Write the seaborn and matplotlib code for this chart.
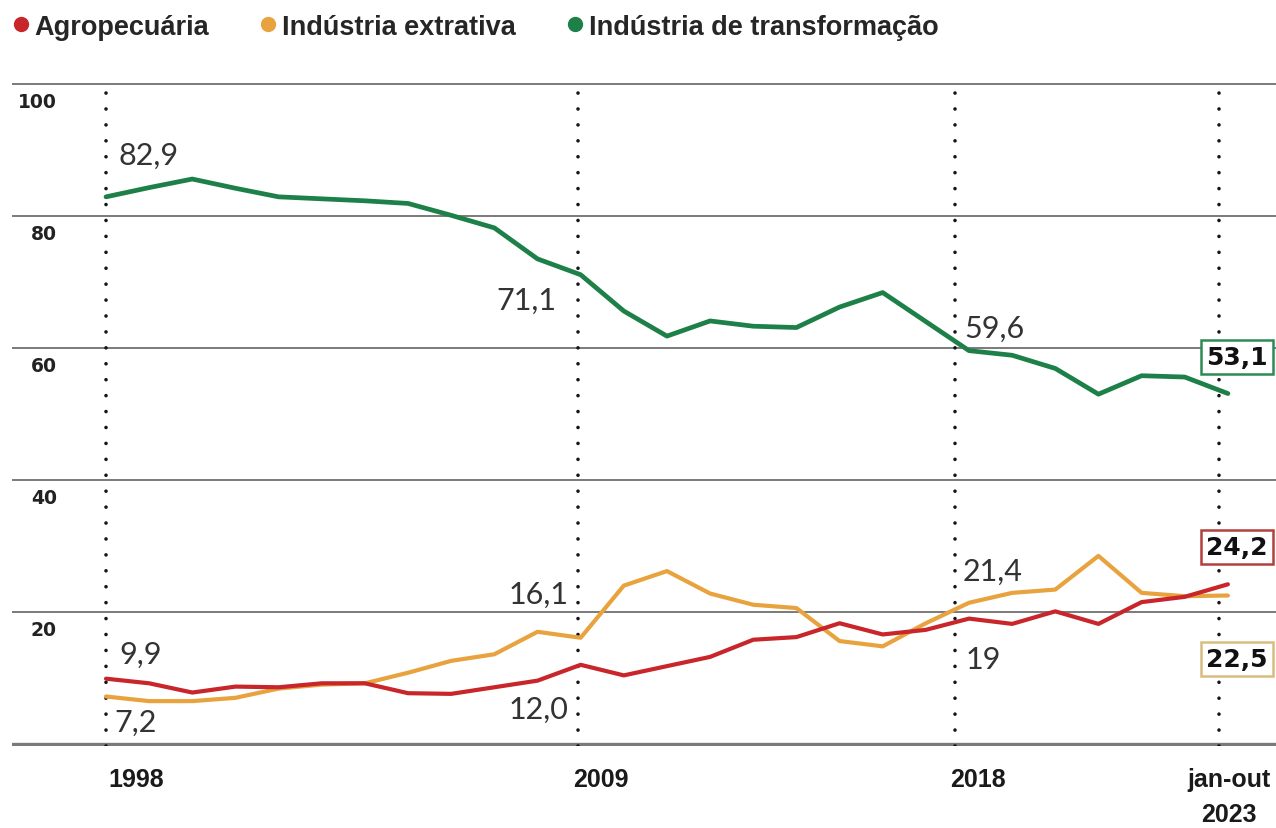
import numpy as np
import pandas as pd
import matplotlib
matplotlib.use("Agg")
import matplotlib.pyplot as plt
from matplotlib.lines import Line2D
from matplotlib.transforms import blended_transform_factory
import seaborn as sns

# ---------------- data ----------------
series_names = ["Agropecuária", "Indústria extrativa", "Indústria de transformação"]
agro = [9.9, 9.2, 7.8, 8.7, 8.6, 9.2, 9.2, 7.7, 7.6, 8.6, 9.6, 12.0, 10.4, 11.8,
        13.2, 15.8, 16.2, 18.3, 16.6, 17.3, 19.0, 18.2, 20.1, 18.2, 21.5, 22.3, 24.2]
extrativa = [7.2, 6.5, 6.5, 7.0, 8.4, 9.0, 9.2, 10.8, 12.6, 13.6, 17.0, 16.1, 24.0, 26.2,
             22.8, 21.1, 20.6, 15.6, 14.8, 18.3, 21.4, 22.9, 23.4, 28.5, 22.9, 22.4, 22.5]
transformacao = [82.9, 84.3, 85.6, 84.2, 82.9, 82.6, 82.3, 81.9, 80.1, 78.2, 73.5, 71.1,
                 65.6, 61.8, 64.1, 63.3, 63.1, 66.2, 68.4, 64.0, 59.6, 58.9, 56.9, 53.0,
                 55.8, 55.6, 53.1]
x_labels = ["1998", "2009", "2018", "jan-out\n2023"]
y_ticks = [0, 20, 40, 60, 80, 100]
y_labels = ["20", "40", "60", "80", "100"]

colors = {"Agropecuária": "#c8262b",
          "Indústria extrativa": "#e8a33f",
          "Indústria de transformação": "#1d8048"}
box_edges = {"Agropecuária": "#b3403d",
             "Indústria extrativa": "#d9bd80",
             "Indústria de transformação": "#2d8a55"}

values = {"Agropecuária": agro,
          "Indústria extrativa": extrativa,
          "Indústria de transformação": transformacao}
n = len(agro)
df = pd.concat([pd.DataFrame({"x": np.arange(n), "valor": values[s], "serie": s})
                for s in series_names], ignore_index=True)

# ---------------- layout constants ----------------
W, H = 1276, 829
x0_px, px_per_unit = 106, 43.15
def xu(px):
    return (px - x0_px) / px_per_unit

vline_pos = [xu(106), xu(578), xu(955), xu(1219)]
label_pos = [xu(136), xu(601), xu(978), xu(1229)]

sns.set_style("white")
fig = plt.figure(figsize=(W / 100, H / 100), dpi=100)
ax_left, ax_right = 12, W
ax_top, ax_bot = 83, 747
ax = fig.add_axes([ax_left / W, 1 - ax_bot / H, (ax_right - ax_left) / W, (ax_bot - ax_top) / H])

ax.set_xlim(xu(ax_left), xu(ax_right))
ax.set_ylim(-0.3, 100.3)

# gridlines
for v in y_ticks:
    ax.axhline(v, color="#7a7a7a", lw=2.4 if v == 0 else 1.4, zorder=1)

# dotted verticals
for p in vline_pos:
    ax.axvline(p, color="#151515", lw=2.6, linestyle=(0, (0.01, 4.4)),
               dash_capstyle="round", zorder=2)

sns.lineplot(data=df, x="x", y="valor", hue="serie", palette=colors,
             hue_order=["Indústria extrativa", "Agropecuária", "Indústria de transformação"],
             linewidth=3.0, legend=False, ax=ax, zorder=3)
for line in ax.get_lines():
    if line.get_color() == "#1d8048":
        line.set_linewidth(3.4)

for s in ax.spines.values():
    s.set_visible(False)
ax.set_xlabel("")
ax.set_ylabel("")

bold_cond = ["Liberation Sans Narrow", "Liberation Sans", "DejaVu Sans"]

# x ticks
ax.set_xticks(label_pos)
ax.set_xticklabels(x_labels, fontsize=18, fontweight="bold", family=bold_cond,
                   color="#1a1a1a", va="top")
for t in ax.get_xticklabels():
    t.set_linespacing(1.6)
ax.tick_params(axis="x", which="major", length=0, pad=15)
ax.set_xticks(vline_pos, minor=True)
ax.tick_params(axis="x", which="minor", length=5, width=1.6, color="#333333", direction="inout")
ax.set_yticks([])

# y labels inside, below the gridlines
ytrans = blended_transform_factory(ax.transAxes, ax.transData)
for v, lab in zip(y_ticks[1:], y_labels):
    ax.annotate(lab, xy=((57 - ax_left) / (ax_right - ax_left), v), xycoords=ytrans,
                xytext=(0, -8), textcoords="offset pixels", ha="right", va="top",
                fontsize=13.5, fontweight="bold", family="DejaVu Sans", color="#222222")

# point annotations: (series, index, decimals, dx, dy, ha, boxed)
annots = [
    ("Indústria de transformação", 0, 1, 12, 42, "left", False),
    ("Indústria de transformação", 11, 1, -24, -25, "right", False),
    ("Indústria de transformação", 20, 1, -5, 23, "left", False),
    ("Indústria de transformação", 26, 1, 9, 37, "center", True),
    ("Agropecuária", 0, 1, 13, 25, "left", False),
    ("Indústria extrativa", 0, 1, 8, -25, "left", False),
    ("Indústria extrativa", 11, 1, -12, 44, "right", False),
    ("Agropecuária", 11, 1, -12, -44, "right", False),
    ("Indústria extrativa", 20, 1, -6, 32, "left", False),
    ("Agropecuária", 20, 0, -3, -40, "left", False),
    ("Agropecuária", 26, 1, 9, 37, "center", True),
    ("Indústria extrativa", 26, 1, 9, -63, "center", True),
]
for s, i, dec, dx, dy, ha, boxed in annots:
    v = values[s][i]
    txt = f"{v:.{dec}f}".replace(".", ",")
    if boxed:
        ax.annotate(txt, xy=(i, v), xytext=(dx, dy), textcoords="offset pixels",
                    ha=ha, va="center", fontsize=18, fontweight="bold",
                    family="DejaVu Sans", color="#111111", zorder=5,
                    bbox=dict(boxstyle="square,pad=0.2", fc="white",
                              ec=box_edges[s], lw=1.8))
    else:
        ax.annotate(txt, xy=(i, v), xytext=(dx, dy), textcoords="offset pixels",
                    ha=ha, va="center", fontsize=22, fontweight="normal",
                    family=["Lato", "DejaVu Sans"], color="#333333", zorder=5)

# legend
handles = [Line2D([], [], marker="o", linestyle="none", markersize=10,
                  markerfacecolor=colors[s], markeredgecolor=colors[s]) for s in series_names]
fig.legend(handles, series_names, loc="upper left", bbox_to_anchor=(-0.0125, 1.01),
           ncol=3, frameon=False, handletextpad=0.0, columnspacing=1.7,
           handlelength=1.0, borderaxespad=0.45,
           prop=dict(size=19.5, weight="bold", family=bold_cond))

fig.savefig("out.png", dpi=100, facecolor="white")
